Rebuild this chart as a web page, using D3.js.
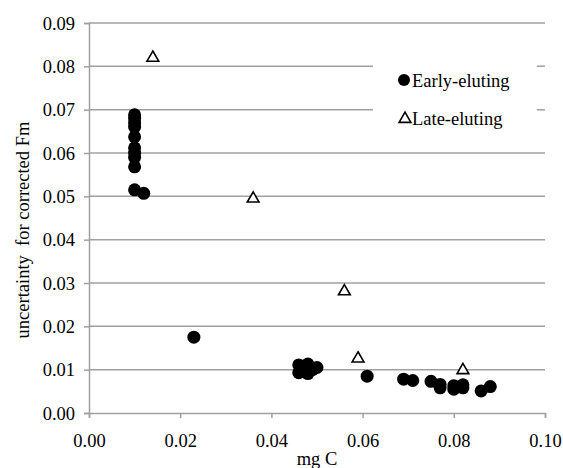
<!DOCTYPE html>
<html>
<head>
<meta charset="utf-8">
<script src="https://cdn.jsdelivr.net/npm/d3@7"></script>
<style>
  body { margin: 0; background: #fff; }
  svg text { font-family: "Liberation Serif", "Times New Roman", Times, Tinos, "DejaVu Serif", "Noto Serif", serif; fill: #000; }
</style>
</head>
<body>
<div id="chart"></div>
<script>
// Early-eluting (filled circles)
const earlyX = [0.010, 0.010, 0.010, 0.010, 0.010, 0.010, 0.010, 0.010, 0.010, 0.010, 0.012,
                0.023,
                0.046, 0.046, 0.047, 0.048, 0.048, 0.049, 0.050,
                0.061, 0.069, 0.071, 0.075, 0.077, 0.077, 0.080, 0.080, 0.082, 0.082, 0.086, 0.088];
const earlyY = [0.0688, 0.0680, 0.0670, 0.0660, 0.0637, 0.0612, 0.0600, 0.0590, 0.0568, 0.0515, 0.0507,
                0.0175,
                0.0111, 0.0093, 0.0108, 0.0113, 0.0091, 0.0100, 0.0105,
                0.0085, 0.0078, 0.0075, 0.0073, 0.0066, 0.0058, 0.0063, 0.0055, 0.0065, 0.0058, 0.0051, 0.0061];
// Late-eluting (open triangles)
const lateX = [0.014, 0.036, 0.056, 0.059, 0.082];
const lateY = [0.0822, 0.0497, 0.0283, 0.0128, 0.0101];

const xTicks = [0, 0.02, 0.04, 0.06, 0.08, 0.10];
const yTicks = [0, 0.01, 0.02, 0.03, 0.04, 0.05, 0.06, 0.07, 0.08, 0.09];
const legendLabels = ["Early-eluting", "Late-eluting"];

const W = 563, H = 468;
const margin = { top: 23, right: 18, bottom: 55, left: 89 };
const width = W - margin.left - margin.right;
const height = H - margin.top - margin.bottom;
const fontStack = '"Liberation Serif", "Times New Roman", Times, Tinos, "DejaVu Serif", "Noto Serif", serif';

const svg = d3.select("#chart").append("svg")
    .attr("width", W)
    .attr("height", H);

const g = svg.append("g")
    .attr("transform", `translate(${margin.left},${margin.top})`);

const x = d3.scaleLinear().domain([0, 0.10]).range([0, width]);
const y = d3.scaleLinear().domain([0, 0.09]).range([height, 0]);

const gridColor = "#a0a0a0";

// Horizontal gridlines
g.selectAll(".grid")
    .data(yTicks.slice(1))
    .enter().append("line")
    .attr("x1", 0).attr("x2", width)
    .attr("y1", d => y(d)).attr("y2", d => y(d))
    .attr("stroke", gridColor)
    .attr("stroke-width", 1.5);

// Y axis
const yAxis = g.append("g")
    .call(d3.axisLeft(y).tickValues(yTicks).tickFormat(d3.format(".2f")).tickSize(5).tickPadding(9));
yAxis.attr("font-family", null);
yAxis.select(".domain").attr("stroke", gridColor).attr("stroke-width", 1.5);
yAxis.selectAll(".tick line").attr("stroke", gridColor).attr("stroke-width", 1.5);
yAxis.selectAll("text").attr("font-size", "18.5px").style("font-family", fontStack).attr("dy", "0.33em");

// X axis
const xAxis = g.append("g")
    .attr("transform", `translate(0,${height})`)
    .call(d3.axisBottom(x).tickValues(xTicks).tickFormat(d3.format(".2f")).tickSize(5).tickPadding(16));
xAxis.attr("font-family", null);
xAxis.select(".domain").attr("stroke", gridColor).attr("stroke-width", 1.5);
xAxis.selectAll(".tick line").attr("stroke", gridColor).attr("stroke-width", 1.5);
xAxis.selectAll("text").attr("font-size", "18.5px").style("font-family", fontStack);

// Legend box (white, covers gridlines)
g.append("rect")
    .attr("x", 373 - margin.left)
    .attr("y", 55 - margin.top)
    .attr("width", 164)
    .attr("height", 80)
    .attr("fill", "#fff");

// Data points
const early = earlyX.map((v, i) => ({ x: v, y: earlyY[i] }));
const late = lateX.map((v, i) => ({ x: v, y: lateY[i] }));

g.selectAll(".early")
    .data(early)
    .enter().append("circle")
    .attr("cx", d => x(d.x))
    .attr("cy", d => y(d.y))
    .attr("r", 6.5)
    .attr("fill", "#000");

const tri = d3.symbol().type(d3.symbolTriangle).size(60);
g.selectAll(".late")
    .data(late)
    .enter().append("path")
    .attr("d", tri)
    .attr("transform", d => `translate(${x(d.x)},${y(d.y) + 1})`)
    .attr("fill", "#fff")
    .attr("stroke", "#000")
    .attr("stroke-width", 1.6);

// Legend
const leg = svg.append("g");
leg.append("circle")
    .attr("cx", 404).attr("cy", 80).attr("r", 6)
    .attr("fill", "#000");
leg.append("path")
    .attr("d", tri)
    .attr("transform", "translate(405,119)")
    .attr("fill", "#fff")
    .attr("stroke", "#000")
    .attr("stroke-width", 1.6);
leg.selectAll(".lt")
    .data(legendLabels)
    .enter().append("text")
    .attr("x", 412)
    .attr("y", (d, i) => 87 + i * 38)
    .attr("font-size", "18.5px")
    .style("font-family", fontStack)
    .text(d => d);

// Axis titles
svg.append("text")
    .attr("x", margin.left + width / 2)
    .attr("y", 465)
    .attr("text-anchor", "middle")
    .attr("font-size", "18.5px")
    .style("font-family", fontStack)
    .text("mg C");

svg.append("text")
    .attr("transform", `translate(29,${margin.top + height / 2 + 12}) rotate(-90)`)
    .attr("text-anchor", "middle")
    .attr("font-size", "18.5px")
    .style("font-family", fontStack)
    .style("white-space", "pre")
    .text("uncertainty  for corrected Fm");
</script>
</body>
</html>
